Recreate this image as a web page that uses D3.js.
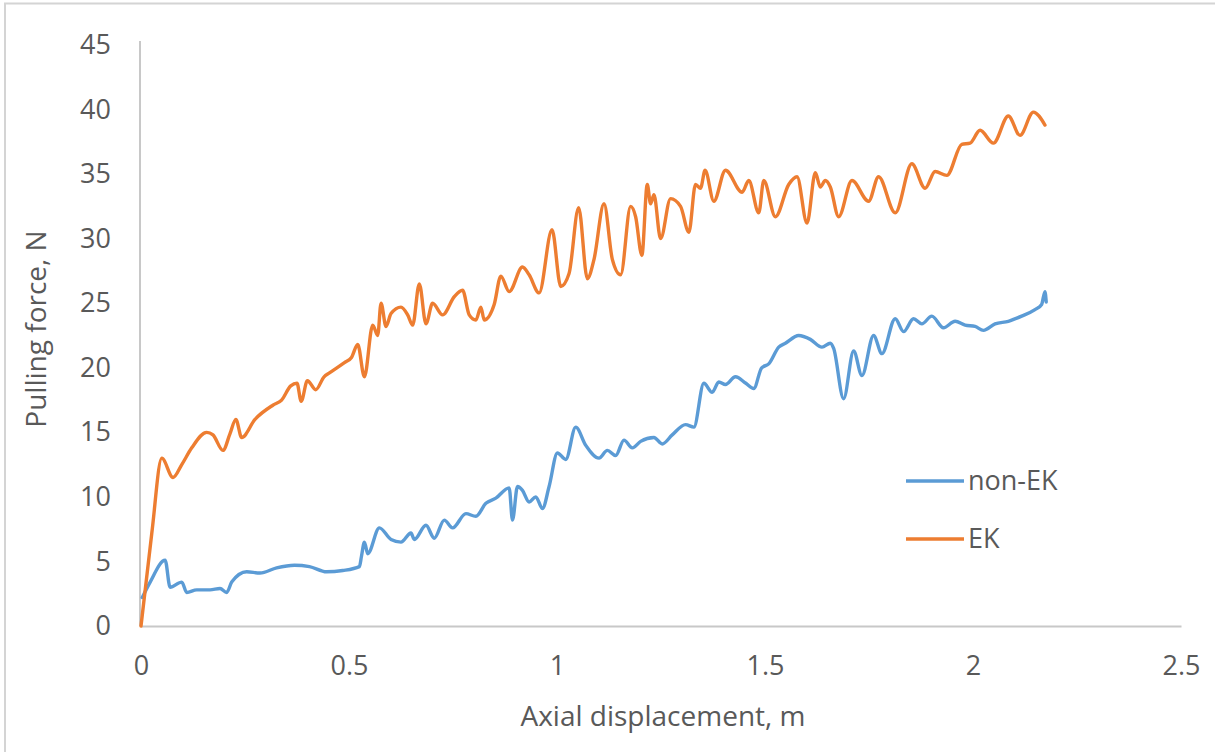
<!DOCTYPE html>
<html>
<head>
<meta charset="utf-8">
<script src="https://cdn.jsdelivr.net/npm/d3@7"></script>
<style>
  html, body { margin: 0; padding: 0; background: #fff; }
  svg { display: block; }
  text { font-family: "Open Sans", "Noto Sans", sans-serif; fill: #595959; }
</style>
</head>
<body>
<svg id="chart" width="1215" height="752"></svg>
<script>
// ---- data ----
const seriesNames = ["non-EK", "EK"];
const seriesColors = ["#5b9bd5", "#ed7d31"];

const xTicks = [0, 0.5, 1, 1.5, 2, 2.5];
const yTicks = [0, 5, 10, 15, 20, 25, 30, 35, 40, 45];

const nonEK_x = [0.003,0.022,0.058,0.070,0.098,0.110,0.134,0.166,0.190,0.206,0.218,0.254,0.286,0.326,0.369,0.405,0.446,0.485,0.525,0.530,0.537,0.545,0.573,0.601,0.625,0.649,0.657,0.685,0.705,0.729,0.749,0.781,0.805,0.829,0.853,0.885,0.893,0.905,0.917,0.933,0.949,0.965,0.981,1.001,1.021,1.045,1.069,1.101,1.121,1.141,1.161,1.181,1.201,1.233,1.253,1.277,1.309,1.329,1.353,1.373,1.389,1.405,1.429,1.454,1.473,1.492,1.509,1.533,1.549,1.581,1.609,1.637,1.657,1.665,1.689,1.713,1.733,1.761,1.781,1.813,1.833,1.857,1.877,1.901,1.929,1.957,1.981,2.005,2.025,2.053,2.085,2.117,2.149,2.165,2.173,2.176];
const nonEK_y = [2.2,3.4,5.1,3.0,3.4,2.6,2.8,2.8,2.9,2.6,3.4,4.2,4.1,4.5,4.7,4.6,4.2,4.3,4.6,5.4,6.5,5.6,7.6,6.7,6.5,7.2,6.7,7.8,6.8,8.2,7.6,8.7,8.5,9.5,9.9,10.7,8.2,10.8,10.5,9.6,10.0,9.1,10.8,13.4,12.9,15.4,14.0,13.0,13.6,13.2,14.4,13.8,14.3,14.6,14.1,14.8,15.6,15.4,18.8,18.1,18.9,18.7,19.3,18.8,18.4,20.0,20.3,21.6,21.9,22.5,22.2,21.6,21.9,21.5,17.6,21.3,19.4,22.5,21.1,23.8,22.8,23.8,23.4,24.0,23.1,23.6,23.3,23.2,22.9,23.4,23.6,24.0,24.5,24.9,25.9,25.1];

const EK_x = [0,0.026,0.050,0.077,0.098,0.122,0.158,0.173,0.197,0.214,0.228,0.242,0.274,0.317,0.338,0.360,0.375,0.385,0.400,0.420,0.440,0.453,0.489,0.506,0.521,0.537,0.557,0.569,0.577,0.589,0.601,0.625,0.641,0.653,0.669,0.685,0.701,0.725,0.753,0.773,0.789,0.805,0.817,0.825,0.849,0.865,0.885,0.917,0.933,0.957,0.988,1.009,1.029,1.052,1.073,1.089,1.113,1.133,1.153,1.177,1.189,1.204,1.217,1.225,1.233,1.249,1.273,1.297,1.317,1.333,1.345,1.356,1.377,1.405,1.445,1.461,1.485,1.497,1.525,1.557,1.577,1.601,1.621,1.633,1.645,1.657,1.677,1.709,1.749,1.773,1.813,1.853,1.885,1.909,1.937,1.973,1.993,2.017,2.049,2.085,2.113,2.145,2.173];
const EK_y = [0,7.2,13.0,11.5,12.5,13.8,15.0,14.8,13.6,14.9,16.0,14.6,16.0,17.1,17.5,18.6,18.8,17.4,19.0,18.3,19.3,19.6,20.4,20.8,21.8,19.3,23.3,22.5,25.0,23.2,24.2,24.7,24.1,23.3,26.5,23.4,25.0,24.1,25.5,26.0,24.1,23.7,24.7,23.7,24.9,27.1,25.9,27.8,27.2,25.8,30.7,26.3,27.3,32.4,26.9,28.4,32.7,28.4,27.2,32.5,31.7,28.7,34.2,32.7,33.4,30.0,33.1,32.5,30.5,34.2,33.9,35.3,32.9,35.3,33.6,34.5,32.0,34.5,31.7,34.2,34.8,31.2,35.1,34.0,34.5,34.0,31.7,34.5,32.9,34.8,32.0,35.8,33.9,35.2,34.9,37.3,37.4,38.4,37.4,39.5,38.0,39.8,38.8];

const xTitle = "Axial displacement, m";
const yTitle = "Pulling force, N";

// ---- drawing ----
const svg = d3.select("#chart");

// outer frame
svg.append("path")
  .attr("d", "M5,752 L5,3.5 L1215,3.5")
  .attr("fill", "none").attr("stroke", "#d4d4d4").attr("stroke-width", 2);

const x = d3.scaleLinear().domain([0, 2.5]).range([141, 1181]);
const y = d3.scaleLinear().domain([0, 45]).range([626, 45]);

// y axis line
svg.append("line")
  .attr("x1", 140).attr("x2", 140).attr("y1", y(45) - 4).attr("y2", y(0))
  .attr("stroke", "#c8c8c8").attr("stroke-width", 2);

// x axis
const xAxis = svg.append("g").attr("transform", `translate(0,${y(0)})`)
  .call(d3.axisBottom(x).tickValues(xTicks).tickSize(0).tickPadding(30)
        .tickFormat(d => d3.format("")(d)));
xAxis.select(".domain").attr("stroke", "#c8c8c8").attr("stroke-width", 2);
xAxis.selectAll("text").attr("font-size", 27).style("fill", "#595959")
  .attr("font-family", "Open Sans");

// y axis labels
const yAxis = svg.append("g").attr("transform", `translate(111,0)`)
  .call(d3.axisLeft(y).tickValues(yTicks).tickSize(0).tickPadding(0));
yAxis.select(".domain").remove();
yAxis.selectAll("text").attr("font-size", 27).style("fill", "#595959")
  .attr("font-family", "Open Sans");

// titles
svg.append("text").attr("x", 663).attr("y", 726).attr("text-anchor", "middle")
  .attr("font-size", 28).text(xTitle);
svg.append("text").attr("transform", `translate(46,329) rotate(-90)`)
  .attr("text-anchor", "middle").attr("font-size", 28).text(yTitle);

// lines
const line = d3.line().x(d => x(d[0])).y(d => y(d[1])).curve(d3.curveMonotoneX);
const series = [
  d3.zip(nonEK_x, nonEK_y),
  d3.zip(EK_x, EK_y)
];
series.forEach((pts, i) => {
  svg.append("path").datum(pts)
    .attr("d", line)
    .attr("fill", "none")
    .attr("stroke", seriesColors[i])
    .attr("stroke-width", 3.4)
    .attr("stroke-linejoin", "round")
    .attr("stroke-linecap", "round");
});

// legend
const legY = [481, 539];
seriesNames.forEach((name, i) => {
  svg.append("line").attr("x1", 906).attr("x2", 964)
    .attr("y1", legY[i]).attr("y2", legY[i])
    .attr("stroke", seriesColors[i]).attr("stroke-width", 3.4);
  svg.append("text").attr("x", 968).attr("y", legY[i]).attr("dy", "0.35em")
    .attr("font-size", 27).text(name);
});
</script>
</body>
</html>
